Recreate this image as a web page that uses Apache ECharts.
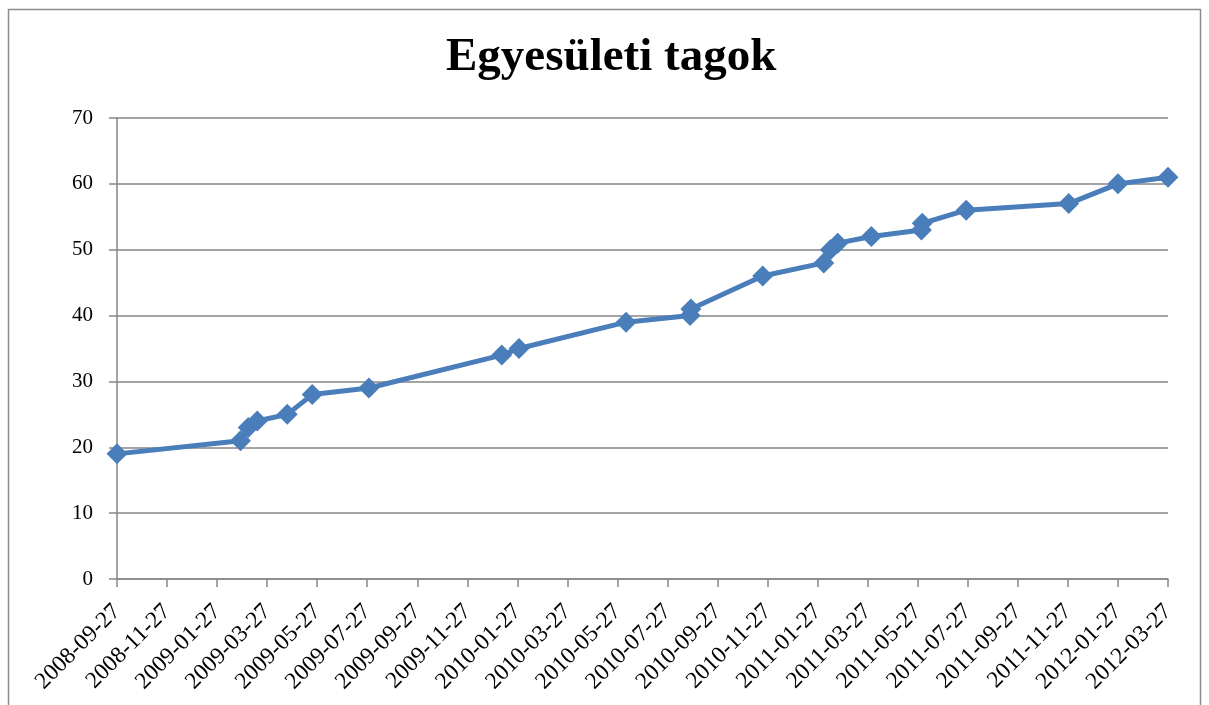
<!DOCTYPE html>
<html>
<head>
<meta charset="utf-8">
<script src="https://cdn.jsdelivr.net/npm/echarts@6/dist/echarts.min.js"></script>
<style>
  html, body { margin: 0; padding: 0; background: #fff; }
  #chart { width: 1209px; height: 705px; }
</style>
</head>
<body>
<div id="chart"></div>
<script>
// member count by date
const dates = [
  "2008-09-27", "2009-02-25", "2009-03-04", "2009-03-15", "2009-04-21",
  "2009-05-21", "2009-07-29", "2010-01-08", "2010-01-29", "2010-06-07",
  "2010-08-24", "2010-08-25", "2010-11-21", "2011-02-04", "2011-02-12",
  "2011-02-21", "2011-04-01", "2011-06-01", "2011-06-02", "2011-07-25",
  "2011-11-28", "2012-01-27", "2012-03-27"
];
const members = [19, 21, 23, 24, 25, 28, 29, 34, 35, 39, 40, 41, 46, 48, 50, 51, 52, 53, 54, 56, 57, 60, 61];

const yTicks = [0, 10, 20, 30, 40, 50, 60, 70];

// x axis is counted in months from 2008-09-27, ticks every 2 months
const startYear = 2008, startMonth = 9, tickDay = 27;

function toMonths(s) {
  const [y, m, d] = s.split("-").map(Number);
  return (y - startYear) * 12 + (m - startMonth) + (d - tickDay) / 30.44;
}

function monthLabel(v) {
  const total = startMonth - 1 + Math.round(v);
  const y = startYear + Math.floor(total / 12);
  const m = (total % 12) + 1;
  return y + "-" + String(m).padStart(2, "0") + "-" + tickDay;
}

const serif = "'Liberation Serif', 'DejaVu Serif', serif";
const gray = "#868686";

const chart = echarts.init(document.getElementById("chart"));
chart.setOption({
  animation: false,
  title: {
    text: "Egyesületi tagok",
    left: 446,
    top: 34,
    padding: 0,
    textStyle: { fontFamily: serif, fontSize: 47, fontWeight: "bold", color: "#000" }
  },
  graphic: [{
    type: "rect",
    shape: { x: 8.5, y: 9.5, width: 1192, height: 720 },
    style: { fill: "none", stroke: "#8c8c8c", lineWidth: 1.5 }
  }],
  grid: { left: 117, right: 41, top: 118, bottom: 126 },
  xAxis: {
    type: "value",
    min: 0,
    max: 42,
    interval: 2,
    axisLine: { lineStyle: { color: gray, width: 1.5 } },
    axisTick: { show: true, length: 8, lineStyle: { color: gray, width: 1.5 } },
    splitLine: { show: false },
    axisLabel: {
      rotate: 45,
      margin: 29,
      fontFamily: serif,
      fontSize: 23.5,
      color: "#000",
      formatter: monthLabel
    }
  },
  yAxis: {
    type: "value",
    min: yTicks[0],
    max: yTicks[yTicks.length - 1],
    interval: 10,
    axisLine: { show: true, lineStyle: { color: gray, width: 1.5 } },
    axisTick: { show: true, length: 8, lineStyle: { color: gray, width: 1.5 } },
    splitLine: { lineStyle: { color: gray, width: 1.5 } },
    axisLabel: { fontFamily: serif, fontSize: 21, color: "#000", margin: 24 }
  },
  series: [{
    type: "line",
    data: dates.map((d, i) => [toMonths(d), members[i]]),
    symbol: "diamond",
    symbolSize: 21,
    lineStyle: { color: "#4a7ebb", width: 5 },
    itemStyle: { color: "#4a7ebb" }
  }]
});
</script>
</body>
</html>
